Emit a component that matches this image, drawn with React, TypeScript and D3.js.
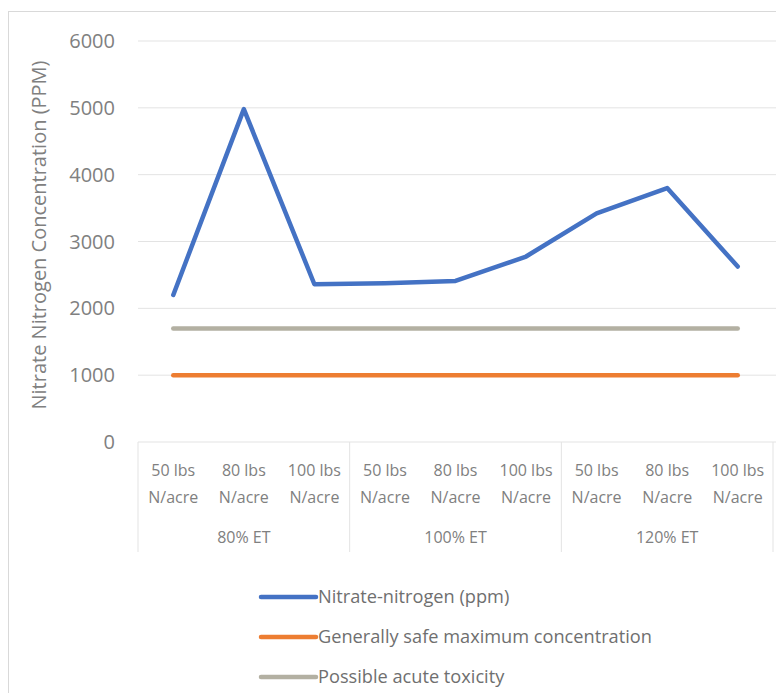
import * as d3 from 'd3';
import { useRef, useEffect } from 'react';

// DATA
const rates = [
  '50 lbs|N/acre',
  '80 lbs|N/acre',
  '100 lbs|N/acre',
  '50 lbs|N/acre',
  '80 lbs|N/acre',
  '100 lbs|N/acre',
  '50 lbs|N/acre',
  '80 lbs|N/acre',
  '100 lbs|N/acre',
];
const groups = ['80% ET', '100% ET', '120% ET'];
const nitrate = [2200, 4980, 2360, 2375, 2410, 2775, 3420, 3800, 2625];
const safeMax = [1000, 1000, 1000, 1000, 1000, 1000, 1000, 1000, 1000];
const acuteTox = [1700, 1700, 1700, 1700, 1700, 1700, 1700, 1700, 1700];
const yTicks = [0, 1000, 2000, 3000, 4000, 5000, 6000];

const seriesList = [
  { name: 'Nitrate-nitrogen (ppm)', values: nitrate, color: '#4472c4' },
  { name: 'Generally safe maximum concentration', values: safeMax, color: '#ed7d31' },
  { name: 'Possible acute toxicity', values: acuteTox, color: '#b3b0a2' },
];

const W = 776;
const H = 693;
const margin = { top: 41, left: 138, right: 3, bottom: 251 };
const FONT = '"Open Sans", sans-serif';

function App() {
  const svgRef = useRef(null);

  useEffect(() => {
    const svg = d3.select(svgRef.current);
    svg.selectAll('*').remove();

    const x = d3
      .scaleBand()
      .domain(rates.map((_, i) => String(i)))
      .range([margin.left, W - margin.right]);
    const y = d3
      .scaleLinear()
      .domain([0, 6000])
      .range([H - margin.bottom, margin.top]);

    // chart frame
    svg
      .append('rect')
      .attr('x', 8.5)
      .attr('y', 11.5)
      .attr('width', W)
      .attr('height', H)
      .attr('fill', 'white')
      .attr('stroke', '#d9d9d9');

    // gridlines
    svg
      .append('g')
      .selectAll('line')
      .data(yTicks)
      .join('line')
      .attr('x1', margin.left)
      .attr('x2', W)
      .attr('y1', (d) => y(d))
      .attr('y2', (d) => y(d))
      .attr('stroke', '#e3e3e3')
      .attr('stroke-width', 1);

    // y tick labels
    svg
      .append('g')
      .selectAll('text')
      .data(yTicks)
      .join('text')
      .attr('x', 115)
      .attr('y', (d) => y(d) + 7)
      .attr('text-anchor', 'end')
      .attr('font-family', FONT)
      .attr('font-size', 20)
      .attr('fill', '#808080')
      .text((d) => d);

    // y axis title
    svg
      .append('text')
      .attr('transform', `translate(46, 235) rotate(-90)`)
      .attr('text-anchor', 'middle')
      .attr('font-family', FONT)
      .attr('font-size', 20)
      .attr('fill', '#808080')
      .text('Nitrate Nitrogen Concentration (PPM)');

    // category axis separators
    const axisTop = y(0);
    const axisBottom = 552;
    const bw = x.bandwidth();
    const sepX = [0, 3, 6, 9].map((i) =>
      i < 9 ? x(String(i)) : x('8') + bw,
    );
    svg
      .append('g')
      .selectAll('line')
      .data(sepX)
      .join('line')
      .attr('x1', (d) => d)
      .attr('x2', (d) => d)
      .attr('y1', axisTop)
      .attr('y2', axisBottom)
      .attr('stroke', '#e3e3e3');

    // category labels
    const cat = svg
      .append('g')
      .selectAll('text')
      .data(rates)
      .join('text')
      .attr('text-anchor', 'middle')
      .attr('font-family', FONT)
      .attr('font-size', 16)
      .attr('fill', '#808080');
    cat
      .append('tspan')
      .attr('x', (d, i) => x(String(i)) + bw / 2)
      .attr('y', 476)
      .text((d) => d.split('|')[0]);
    cat
      .append('tspan')
      .attr('x', (d, i) => x(String(i)) + bw / 2)
      .attr('y', 503)
      .text((d) => d.split('|')[1]);

    // group labels
    svg
      .append('g')
      .selectAll('text')
      .data(groups)
      .join('text')
      .attr('x', (d, i) => x(String(i * 3 + 1)) + bw / 2)
      .attr('y', 543)
      .attr('text-anchor', 'middle')
      .attr('font-family', FONT)
      .attr('font-size', 16)
      .attr('fill', '#808080')
      .text((d) => d);

    // lines (draw reference lines first, then nitrate)
    const line = d3
      .line()
      .x((d, i) => x(String(i)) + bw / 2)
      .y((d) => y(d));
    [...seriesList].reverse().forEach((s) => {
      svg
        .append('path')
        .datum(s.values)
        .attr('d', line)
        .attr('fill', 'none')
        .attr('stroke', s.color)
        .attr('stroke-width', 4.5)
        .attr('stroke-linecap', 'round')
        .attr('stroke-linejoin', 'round');
    });

    // legend
    const leg = svg
      .append('g')
      .selectAll('g')
      .data(seriesList)
      .join('g')
      .attr('transform', (d, i) => `translate(261, ${597 + i * 40})`);
    leg
      .append('line')
      .attr('x1', 0)
      .attr('x2', 55)
      .attr('stroke', (d) => d.color)
      .attr('stroke-width', 4.5)
      .attr('stroke-linecap', 'round');
    leg
      .append('text')
      .attr('x', 57)
      .attr('y', 6)
      .attr('font-family', FONT)
      .attr('font-size', 18.2)
      .attr('fill', '#6f6f6f')
      .text((d) => d.name);
  }, []);

  return (
    <svg
      ref={svgRef}
      width={W}
      height={H}
      style={{ position: 'absolute', left: 0, top: 0, background: 'white' }}
    />
  );
}

export default App;
